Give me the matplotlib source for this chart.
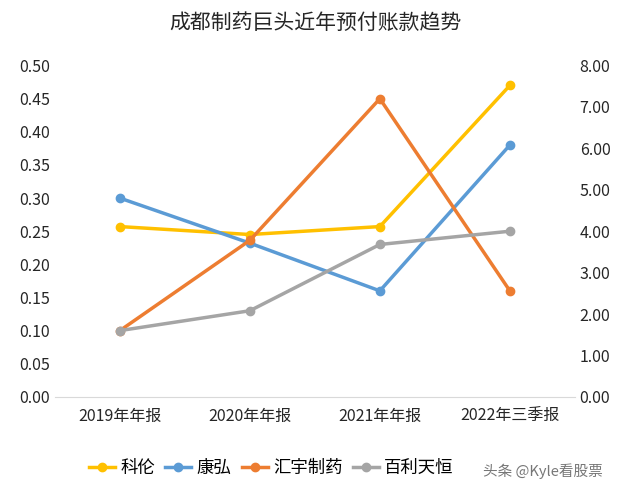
import matplotlib.pyplot as plt
from matplotlib import font_manager

# pick a CJK font installed on the system
cjk = [f for f in font_manager.findSystemFonts() if "CJK" in f or "cjk" in f.lower()]
for path in cjk:
    font_manager.fontManager.addfont(path)
names = sorted({font_manager.FontProperties(fname=p).get_name() for p in cjk})
fam = next((n for n in names if "SC" in n), names[0] if names else "DejaVu Sans")
plt.rcParams["font.family"] = "sans-serif"
plt.rcParams["font.sans-serif"] = [fam, "DejaVu Sans"]

categories = ["2019年年报", "2020年年报", "2021年年报", "2022年三季报"]
kelun = [0.257, 0.245, 0.257, 0.47]
kanghong = [0.30, 0.232, 0.16, 0.38]
huiyu = [1.60, 3.78, 7.20, 2.56]
baili = [1.60, 2.08, 3.68, 4.00]

fig = plt.figure(figsize=(6.31, 4.93), dpi=100)
ax = fig.add_axes([0.087, 0.195, 0.824, 0.672])
ax2 = ax.twinx()
x = range(len(categories))

l1, = ax.plot(x, kelun, color="#FFC000", lw=2.5, marker="o", ms=6, label="科伦")
l2, = ax.plot(x, kanghong, color="#5B9BD5", lw=2.5, marker="o", ms=6, label="康弘")
l3, = ax2.plot(x, huiyu, color="#ED7D31", lw=2.5, marker="o", ms=6, label="汇宇制药")
l4, = ax2.plot(x, baili, color="#A5A5A5", lw=2.5, marker="o", ms=6, label="百利天恒")

ax.set_ylim(0, 0.5)
ax.set_yticks([i * 0.05 for i in range(11)])
ax.set_yticklabels([f"{i * 0.05:.2f}" for i in range(11)])
ax2.set_ylim(0, 8)
ax2.set_yticks(range(9))
ax2.set_yticklabels([f"{i:.2f}" for i in range(9)])
ax.set_xlim(-0.5, 3.5)
ax.set_xticks(list(x))
ax.set_xticklabels(categories)

for a in (ax, ax2):
    for s in a.spines.values():
        s.set_visible(False)
    a.tick_params(length=0, labelsize=11.5, colors="#262626")
ax.spines["bottom"].set_visible(True)
ax.spines["bottom"].set_color("#D9D9D9")
ax.tick_params(axis="x", pad=8)

fig.suptitle("成都制药巨头近年预付账款趋势", y=0.975, fontsize=15, color="#262626")
fig.legend(handles=[l1, l2, l3, l4], loc="lower center", ncol=4, frameon=False,
           bbox_to_anchor=(0.43, 0.0), fontsize=12.5, handlelength=1.5,
           handletextpad=0.3, columnspacing=0.6)
fig.text(0.765, 0.035, "头条 @Kyle看股票", fontsize=10.5, color="#555555", alpha=0.8)

fig.savefig("out.png")
